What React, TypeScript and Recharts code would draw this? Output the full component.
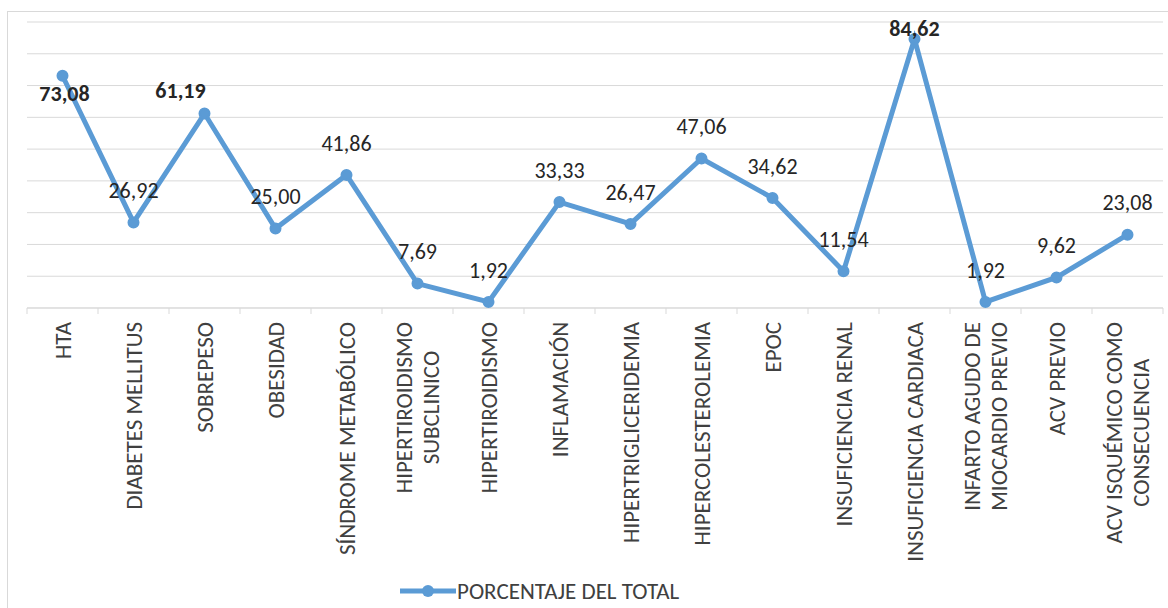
import React from "react";
import { LineChart, Line, XAxis, YAxis, CartesianGrid, LabelList } from "recharts";

const categories = [
  "HTA",
  "DIABETES MELLITUS",
  "SOBREPESO",
  "OBESIDAD",
  "SÍNDROME METABÓLICO",
  "HIPERTIROIDISMO SUBCLINICO",
  "HIPERTIROIDISMO",
  "INFLAMACIÓN",
  "HIPERTRIGLICERIDEMIA",
  "HIPERCOLESTEROLEMIA",
  "EPOC",
  "INSUFICIENCIA RENAL",
  "INSUFICIENCIA CARDIACA",
  "INFARTO AGUDO DE MIOCARDIO PREVIO",
  "ACV PREVIO",
  "ACV ISQUÉMICO COMO CONSECUENCIA",
];

const tickLabels = [
  ["HTA"],
  ["DIABETES MELLITUS"],
  ["SOBREPESO"],
  ["OBESIDAD"],
  ["SÍNDROME METABÓLICO"],
  ["HIPERTIROIDISMO", "SUBCLINICO"],
  ["HIPERTIROIDISMO"],
  ["INFLAMACIÓN"],
  ["HIPERTRIGLICERIDEMIA"],
  ["HIPERCOLESTEROLEMIA"],
  ["EPOC"],
  ["INSUFICIENCIA RENAL"],
  ["INSUFICIENCIA CARDIACA"],
  ["INFARTO AGUDO DE", "MIOCARDIO PREVIO"],
  ["ACV PREVIO"],
  ["ACV ISQUÉMICO COMO", "CONSECUENCIA"],
];

const porcentaje = [
  73.08, 26.92, 61.19, 25.0, 41.86, 7.69, 1.92, 33.33, 26.47, 47.06, 34.62, 11.54, 84.62, 1.92, 9.62,
  23.08,
];

const boldCategories = ["HTA", "SOBREPESO", "INSUFICIENCIA CARDIACA"];

const yTicks = [0, 10, 20, 30, 40, 50, 60, 70, 80, 90];

const data = categories.map((name, i) => ({ name, value: porcentaje[i], lines: tickLabels[i] }));

const FONT = "Carlito, Lato, sans-serif";
const BLUE = "#5b9bd5";
const GRID = "#d9d9d9";
const W = 1168;
const H = 608;
const margin = { top: 22, right: 5, left: 27, bottom: 40 };
const band = (W - margin.left - margin.right) / categories.length;
const TICK_FS = 23;

let ctx: CanvasRenderingContext2D | null = null;
function measure(text: string, size: number) {
  if (!ctx) ctx = document.createElement("canvas").getContext("2d");
  if (!ctx) return text.length * size * 0.55;
  ctx.font = `${size}px ${FONT}`;
  return ctx.measureText(text).width;
}

const CategoryTick = (props: any) => {
  const { x, y, index, payload } = props;
  const lines: string[] = tickLabels[index] || [String(payload.value)];
  const longest = Math.max(...lines.map((l) => measure(l, TICK_FS)));
  const top = y + 14;
  const centerY = top + longest / 2;
  const spacing = 27;
  const first = -((lines.length - 1) * spacing) / 2;
  return (
    <g>
      <line x1={x - band / 2} x2={x - band / 2} y1={y} y2={y + 6} stroke={GRID} />
      {index === categories.length - 1 && (
        <line x1={x + band / 2} x2={x + band / 2} y1={y} y2={y + 6} stroke={GRID} />
      )}
      {lines.map((l, k) => (
        <text
          key={k}
          transform={`translate(${x + first + k * spacing},${centerY}) rotate(-90)`}
          textAnchor="middle"
          dy="0.35em"
          fontFamily={FONT}
          fontSize={TICK_FS}
          fill="#404040"
        >
          {l}
        </text>
      ))}
    </g>
  );
};

// label placement, as in the original chart (centre offsets from the point)
const labelShift: Record<number, [number, number]> = {
  0: [2, 18],
  2: [-24, -23],
  12: [0, -11],
};

const ValueLabel = (props: any) => {
  const { x, y, value, index } = props;
  const [dx, dy] = labelShift[index] || [0, -32];
  const bold = boldCategories.includes(categories[index]);
  return (
    <text
      x={x + dx}
      y={y + dy}
      dy="0.35em"
      textAnchor="middle"
      fontFamily={FONT}
      fontSize={22}
      fontWeight={bold ? 700 : 400}
      fill="#262626"
    >
      {Number(value).toFixed(2).replace(".", ",")}
    </text>
  );
};

export default function App() {
  return (
    <div style={{ position: "absolute", left: 0, top: 0, width: W, height: H, background: "#fff" }}>
      <div
        style={{
          position: "absolute",
          left: 7,
          top: 11,
          width: W,
          height: H,
          border: `1px solid ${GRID}`,
          boxSizing: "border-box",
        }}
      />
      <div style={{ position: "absolute", left: 0, top: 0 }}>
        <LineChart width={W} height={H} data={data} margin={margin}>
          <CartesianGrid vertical={false} stroke={GRID} />
          <XAxis
            dataKey="name"
            interval={0}
            height={260}
            padding={{ left: band / 2, right: band / 2 }}
            tickLine={false}
            tickSize={0}
            tickMargin={0}
            axisLine={{ stroke: GRID }}
            tick={<CategoryTick />}
          />
          <YAxis hide domain={[0, 90]} ticks={yTicks} />
          <Line
            dataKey="value"
            stroke={BLUE}
            strokeWidth={5}
            dot={{ r: 5, fill: BLUE, stroke: BLUE, strokeWidth: 2 }}
            isAnimationActive={false}
          >
            <LabelList dataKey="value" content={<ValueLabel />} />
          </Line>
        </LineChart>
      </div>
      <div style={{ position: "absolute", left: 400, top: 578, display: "flex", alignItems: "center" }}>
        <svg width={57} height={26}>
          <line x1={0} x2={56} y1={13} y2={13} stroke={BLUE} strokeWidth={5} />
          <circle cx={28} cy={13} r={6} fill={BLUE} />
        </svg>
        <span style={{ fontFamily: FONT, fontSize: 23, color: "#404040", lineHeight: "26px" }}>
          PORCENTAJE DEL TOTAL
        </span>
      </div>
    </div>
  );
}
